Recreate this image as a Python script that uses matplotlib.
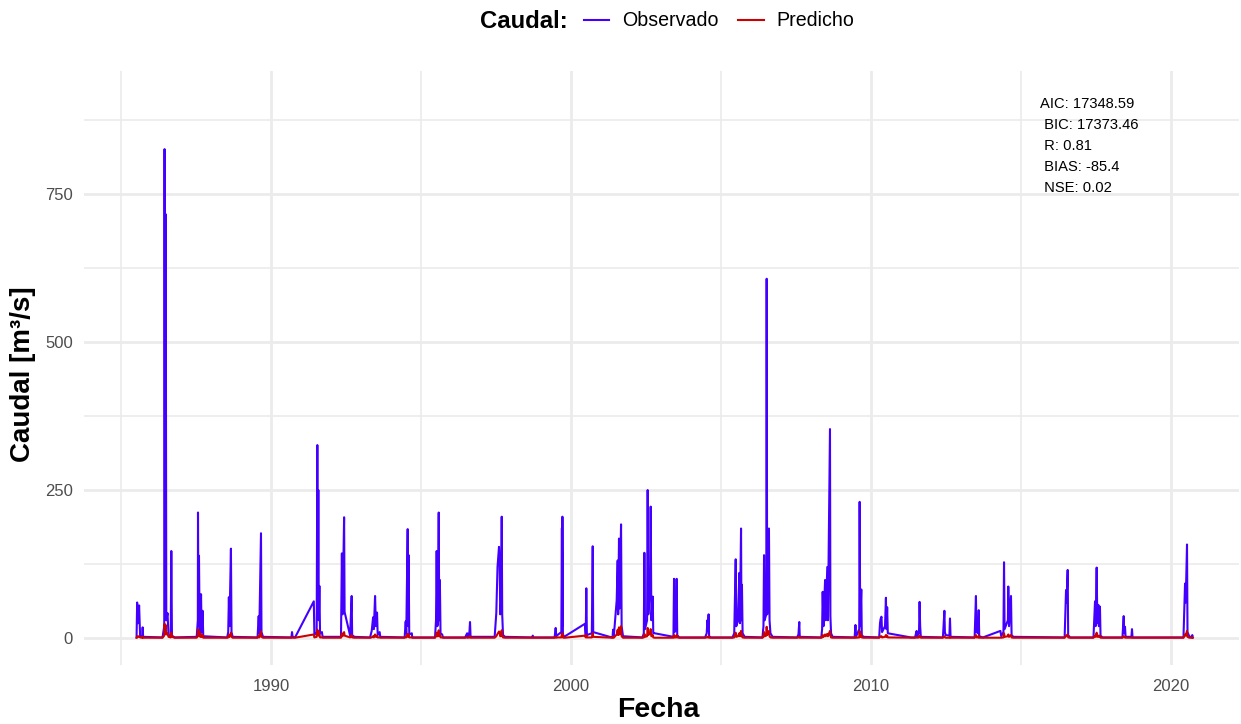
import numpy as np
import matplotlib
matplotlib.use("Agg")
import matplotlib.pyplot as plt
import matplotlib.dates as mdates

plt.rcParams['font.family'] = ['Liberation Sans', 'DejaVu Sans']

# Vertices of the daily flow series (one line per flood season)
fecha = [
    "1985-07-08", "1985-07-15", "1985-07-25", "1985-08-08", "1985-08-20", "1985-09-15", "1985-09-20", "1985-09-26",
    "1986-05-20", "1986-06-10", "1986-06-14", "1986-06-20", "1986-06-28", "1986-07-05", "1986-07-20", "1986-08-01", "1986-08-28", "1986-09-04", "1986-09-12", "1986-10-15",
    "1987-07-10", "1987-07-24", "1987-07-26", "1987-08-01", "1987-08-07", "1987-08-15", "1987-08-25", "1987-09-01", "1987-09-08", "1987-09-20", "1987-09-28",
    "1988-07-15", "1988-07-28", "1988-08-05", "1988-08-12", "1988-08-30", "1988-09-06", "1988-09-20",
    "1989-07-20", "1989-08-03", "1989-08-10", "1989-08-31", "1989-09-06", "1989-09-25",
    "1990-09-05", "1990-09-13", "1990-09-20", "1990-10-20",
    "1991-06-05", "1991-06-12", "1991-07-10", "1991-07-18", "1991-07-24", "1991-07-30", "1991-08-05", "1991-08-12", "1991-08-20", "1991-09-12", "1991-09-20",
    "1992-05-01", "1992-05-12", "1992-05-20", "1992-06-08", "1992-06-14", "1992-08-20", "1992-09-08", "1992-09-14", "1992-10-10",
    "1993-04-20", "1993-05-10", "1993-05-27", "1993-06-05", "1993-06-20", "1993-06-30", "1993-07-14", "1993-07-22", "1993-08-15", "1993-08-22",
    "1994-06-15", "1994-06-28", "1994-07-05", "1994-07-22", "1994-07-28", "1994-08-03", "1994-08-10", "1994-09-10", "1994-09-16",
    "1995-06-20", "1995-07-02", "1995-07-10", "1995-07-18", "1995-07-25", "1995-08-04", "1995-08-10", "1995-08-18", "1995-08-26", "1995-09-15", "1995-09-25",
    "1996-06-20", "1996-07-15", "1996-07-22", "1996-08-12", "1996-08-19", "1996-08-26",
    "1997-06-15", "1997-07-05", "1997-07-20", "1997-08-07", "1997-08-15", "1997-08-22", "1997-09-02", "1997-09-09", "1997-09-15", "1997-09-25", "1997-10-20",
    "1998-09-15", "1998-09-22", "1998-09-29",
    "1999-06-15", "1999-06-28", "1999-07-05", "1999-07-20", "1999-09-05", "1999-09-12", "1999-09-15", "1999-09-18", "1999-09-24", "1999-10-01", "1999-10-20",
    "2000-06-18", "2000-06-28", "2000-07-05", "2000-07-12", "2000-09-10", "2000-09-21", "2000-09-27", "2001-05-10",
    "2001-05-20", "2001-05-27", "2001-06-05", "2001-07-10", "2001-07-22", "2001-07-28", "2001-08-07", "2001-08-14", "2001-09-01", "2001-09-08", "2001-09-25",
    "2002-05-20", "2002-06-05", "2002-06-12", "2002-06-20", "2002-07-15", "2002-07-22", "2002-07-30", "2002-08-20", "2002-08-28", "2002-09-05", "2002-09-22", "2002-09-28", "2002-10-15", "2003-06-01",
    "2003-06-08", "2003-06-15", "2003-07-03", "2003-07-10", "2003-07-17", "2003-08-10",
    "2004-06-20", "2004-07-10", "2004-07-18", "2004-07-24", "2004-08-02", "2004-08-08", "2004-08-30",
    "2005-05-20", "2005-06-10", "2005-06-20", "2005-06-28", "2005-07-05", "2005-07-25", "2005-08-11", "2005-08-18", "2005-09-01", "2005-09-06", "2005-09-12", "2005-09-20", "2005-10-15",
    "2006-05-20", "2006-06-01", "2006-06-08", "2006-06-15", "2006-07-05", "2006-07-10", "2006-07-16", "2006-08-07", "2006-08-14", "2006-08-25", "2006-09-20",
    "2007-07-15", "2007-08-01", "2007-08-11", "2007-08-17",
    "2008-05-05", "2008-05-15", "2008-05-22", "2008-06-01", "2008-06-20", "2008-06-28", "2008-07-17", "2008-07-25", "2008-08-19", "2008-08-24", "2008-09-01", "2008-09-20",
    "2009-06-15", "2009-06-25", "2009-07-02", "2009-08-10", "2009-08-15", "2009-08-22", "2009-09-04", "2009-09-10", "2009-10-01",
    "2010-04-10", "2010-04-20", "2010-04-27", "2010-05-08", "2010-05-15", "2010-06-20", "2010-07-01", "2010-07-08", "2010-07-16", "2010-07-24", "2011-05-01",
    "2011-06-20", "2011-07-10", "2011-07-17", "2011-08-08", "2011-08-15", "2011-08-22", "2011-08-30",
    "2012-05-25", "2012-06-12", "2012-06-18", "2012-06-28", "2012-08-12", "2012-08-19", "2012-08-26",
    "2013-06-15", "2013-07-01", "2013-07-08", "2013-07-28", "2013-08-04", "2013-08-10", "2013-09-25",
    "2014-04-25", "2014-05-05", "2014-06-01", "2014-06-08", "2014-06-15", "2014-07-25", "2014-07-30", "2014-08-08", "2014-09-01", "2014-09-08", "2014-09-30",
    "2016-06-15", "2016-07-02", "2016-07-08", "2016-07-22", "2016-07-28", "2016-08-20",
    "2017-06-01", "2017-06-20", "2017-06-27", "2017-07-10", "2017-07-18", "2017-07-30", "2017-08-06", "2017-08-19", "2017-08-26", "2017-09-20",
    "2018-05-20", "2018-06-04", "2018-06-10", "2018-06-20", "2018-06-27", "2018-09-06", "2018-09-13", "2018-09-20",
    "2020-06-01", "2020-06-20", "2020-06-28", "2020-07-14", "2020-07-20", "2020-08-10", "2020-09-10", "2020-09-16", "2020-09-22",
]

observado = [
    1, 60, 25, 55, 4, 2, 18, 2,
    1, 20, 826, 40, 716, 30, 42, 5, 3, 147, 4, 1,
    2, 30, 212, 20, 139, 15, 10, 74, 10, 46, 3,
    1, 10, 69, 20, 151, 10, 2,
    1, 37, 8, 177, 10, 2,
    1, 10, 2, 1,
    62, 5, 10, 326, 40, 250, 30, 88, 8, 10, 2,
    2, 143, 40, 204, 44, 4, 71, 5, 2,
    1, 12, 35, 15, 71, 20, 43, 5, 10, 2,
    1, 28, 8, 184, 20, 140, 6, 8, 1,
    1, 30, 147, 20, 25, 212, 30, 98, 8, 6, 1,
    1, 8, 1, 10, 27, 2,
    2, 42, 120, 154, 128, 40, 60, 205, 40, 5, 2,
    1, 4, 1,
    1, 17, 3, 5, 10, 186, 20, 205, 8, 3, 3,
    24, 5, 84, 5, 8, 155, 10, 1,
    1, 14, 3, 64, 131, 40, 168, 50, 192, 20, 3,
    1, 8, 144, 15, 30, 250, 40, 90, 222, 30, 70, 8, 8, 2,
    100, 10, 15, 100, 5, 1,
    1, 8, 30, 12, 40, 3, 1,
    1, 8, 75, 133, 20, 30, 110, 25, 185, 30, 90, 8, 2,
    1, 20, 140, 30, 40, 607, 40, 185, 30, 8, 2,
    1, 6, 27, 2,
    1, 15, 78, 20, 98, 30, 120, 30, 353, 37, 8, 2,
    1, 22, 2, 15, 230, 20, 82, 5, 2,
    1, 25, 32, 36, 10, 20, 68, 15, 52, 8, 1,
    1, 12, 2, 10, 61, 20, 2,
    1, 46, 10, 5, 4, 33, 2,
    1, 71, 10, 8, 47, 3, 1,
    12, 3, 10, 128, 15, 30, 87, 20, 71, 5, 2,
    1, 81, 60, 115, 5, 1,
    1, 62, 20, 119, 25, 56, 20, 53, 4, 1,
    1, 37, 8, 19, 2, 2, 15, 1,
    1, 92, 60, 158, 10, 3, 1, 5, 1,
]

predicho = [
    0.5, 3, 2, 3, 1, 0.5, 2, 0.5,
    0.5, 4, 24, 10, 22, 6, 8, 2, 1, 9, 2, 0.5,
    0.5, 3, 15, 5, 12, 3, 2, 7, 2, 5, 0.5,
    0.5, 1, 5, 2, 9, 2, 0.5,
    0.5, 3, 1, 11, 2, 0.5,
    0.5, 1, 0.5, 0.5,
    6, 1, 2, 14, 5, 12, 4, 7, 1, 1, 0.5,
    0.5, 8, 3, 10, 4, 1, 5, 1, 0.5,
    0.5, 1, 3, 1, 6, 2, 4, 1, 1, 0.5,
    0.5, 2, 1, 7, 2, 6, 1, 1, 0.5,
    0.5, 3, 9, 3, 3, 13, 4, 7, 1, 1, 0.5,
    0.5, 1, 0.5, 1, 3, 0.5,
    0.5, 3, 7, 11, 9, 3, 4, 13, 4, 1, 0.5,
    0.5, 1, 0.5,
    0.5, 2, 0.5, 1, 1, 7, 2, 8, 1, 0.5, 0.5,
    4, 1, 5, 1, 1, 8, 2, 0.5,
    0.5, 2, 0.5, 6, 14, 5, 18, 6, 20, 3, 0.5,
    0.5, 1, 7, 2, 3, 17, 5, 8, 15, 3, 5, 1, 0.5, 0.5,
    5, 1, 1, 5, 1, 0.5,
    0.5, 1, 2, 1, 3, 0.5, 0.5,
    0.5, 1, 5, 9, 2, 3, 8, 3, 12, 3, 6, 1, 0.5,
    0.5, 2, 10, 3, 4, 19, 5, 12, 3, 1, 0.5,
    0.5, 1, 2, 0.5,
    0.5, 1, 5, 2, 6, 3, 7, 3, 12, 4, 1, 0.5,
    0.5, 2, 0.5, 1, 12, 2, 6, 1, 0.5,
    0.5, 2, 3, 3, 1, 2, 5, 2, 4, 1, 0.5,
    0.5, 1, 0.5, 1, 4, 2, 0.5,
    0.5, 3, 1, 0.5, 0.5, 2, 0.5,
    0.5, 5, 1, 1, 4, 0.5, 0.5,
    0.5, 0.5, 1, 8, 2, 3, 6, 2, 5, 1, 0.5,
    0.5, 4, 3, 6, 1, 0.5,
    0.5, 4, 2, 9, 2, 4, 2, 4, 0.5, 0.5,
    0.5, 3, 1, 2, 0.5, 0.5, 1, 0.5,
    0.5, 6, 4, 12, 2, 0.5, 0.5, 1, 0.5,
]

metricas = ["AIC: 17348.59", " BIC: 17373.46", " R: 0.81", " BIAS: -85.4", " NSE: 0.02"]

x_major = ["1990-01-01", "2000-01-01", "2010-01-01", "2020-01-01"]
x_minor = ["1985-01-01", "1995-01-01", "2005-01-01", "2015-01-01"]
y_major = [0, 250, 500, 750]
y_minor = [125, 375, 625, 875]

assert len(fecha) == len(observado) == len(predicho)

fechas = np.array(fecha, dtype="datetime64[D]")

W, H = 1241, 724
fig = plt.figure(figsize=(W / 100, H / 100), dpi=100)
ax = fig.add_axes([84 / W, 1 - 665 / H, 1155 / W, 594 / H])

col_obs = "#4400FF"
col_pred = "#CC0000"
l_obs, = ax.plot(fechas, observado, color=col_obs, lw=1.5, zorder=3)
l_pred, = ax.plot(fechas, predicho, color=col_pred, lw=1.5, zorder=4)

ax.set_xlim(np.datetime64("1983-10-07"), np.datetime64("2022-04-08"))
ax.set_ylim(-45.6, 958)

ax.set_xticks(np.array(x_major, dtype="datetime64[D]"))
ax.set_xticks(np.array(x_minor, dtype="datetime64[D]"), minor=True)
ax.xaxis.set_major_formatter(mdates.DateFormatter("%Y"))
ax.set_yticks(y_major)
ax.set_yticks(y_minor, minor=True)

grid_col = "#EBEBEB"
ax.grid(which="major", color=grid_col, lw=2.0, zorder=0)
ax.grid(which="minor", color=grid_col, lw=1.2, zorder=0)
ax.set_axisbelow(True)
for s in ax.spines.values():
    s.set_visible(False)
ax.tick_params(which="both", length=0)
ax.tick_params(axis="x", labelsize=12, labelcolor="#4D4D4D", pad=10)
ax.tick_params(axis="y", labelsize=12, labelcolor="#4D4D4D", pad=8)

# Axis titles
fig.text(658 / W, 1 - 710 / H, "Fecha", ha="center", va="center",
         fontsize=20.5, fontweight="bold")
fig.text(23 / W, 1 - 374 / H, "Caudal [m³/s]", ha="center", va="center",
         rotation=90, fontsize=20, fontweight="bold")

# Goodness-of-fit block
fig.text(1040 / W, 1 - 146 / H, "\n".join(metricas), ha="left", va="center",
         fontsize=10.6, linespacing=1.63, color="black")

# Legend across the top
fig.text(480 / W, 1 - 21 / H, "Caudal:", ha="left", va="center",
         fontsize=17.2, fontweight="bold")
fig.legend([l_obs, l_pred], ["Observado", "Predicho"], loc="center left",
           bbox_to_anchor=(584 / W, 1 - 21 / H), ncol=2, frameon=False,
           fontsize=14.1, handlelength=1.3, handletextpad=0.65,
           columnspacing=1.0, borderpad=0, borderaxespad=0)

fig.savefig("out.png", dpi=100)
